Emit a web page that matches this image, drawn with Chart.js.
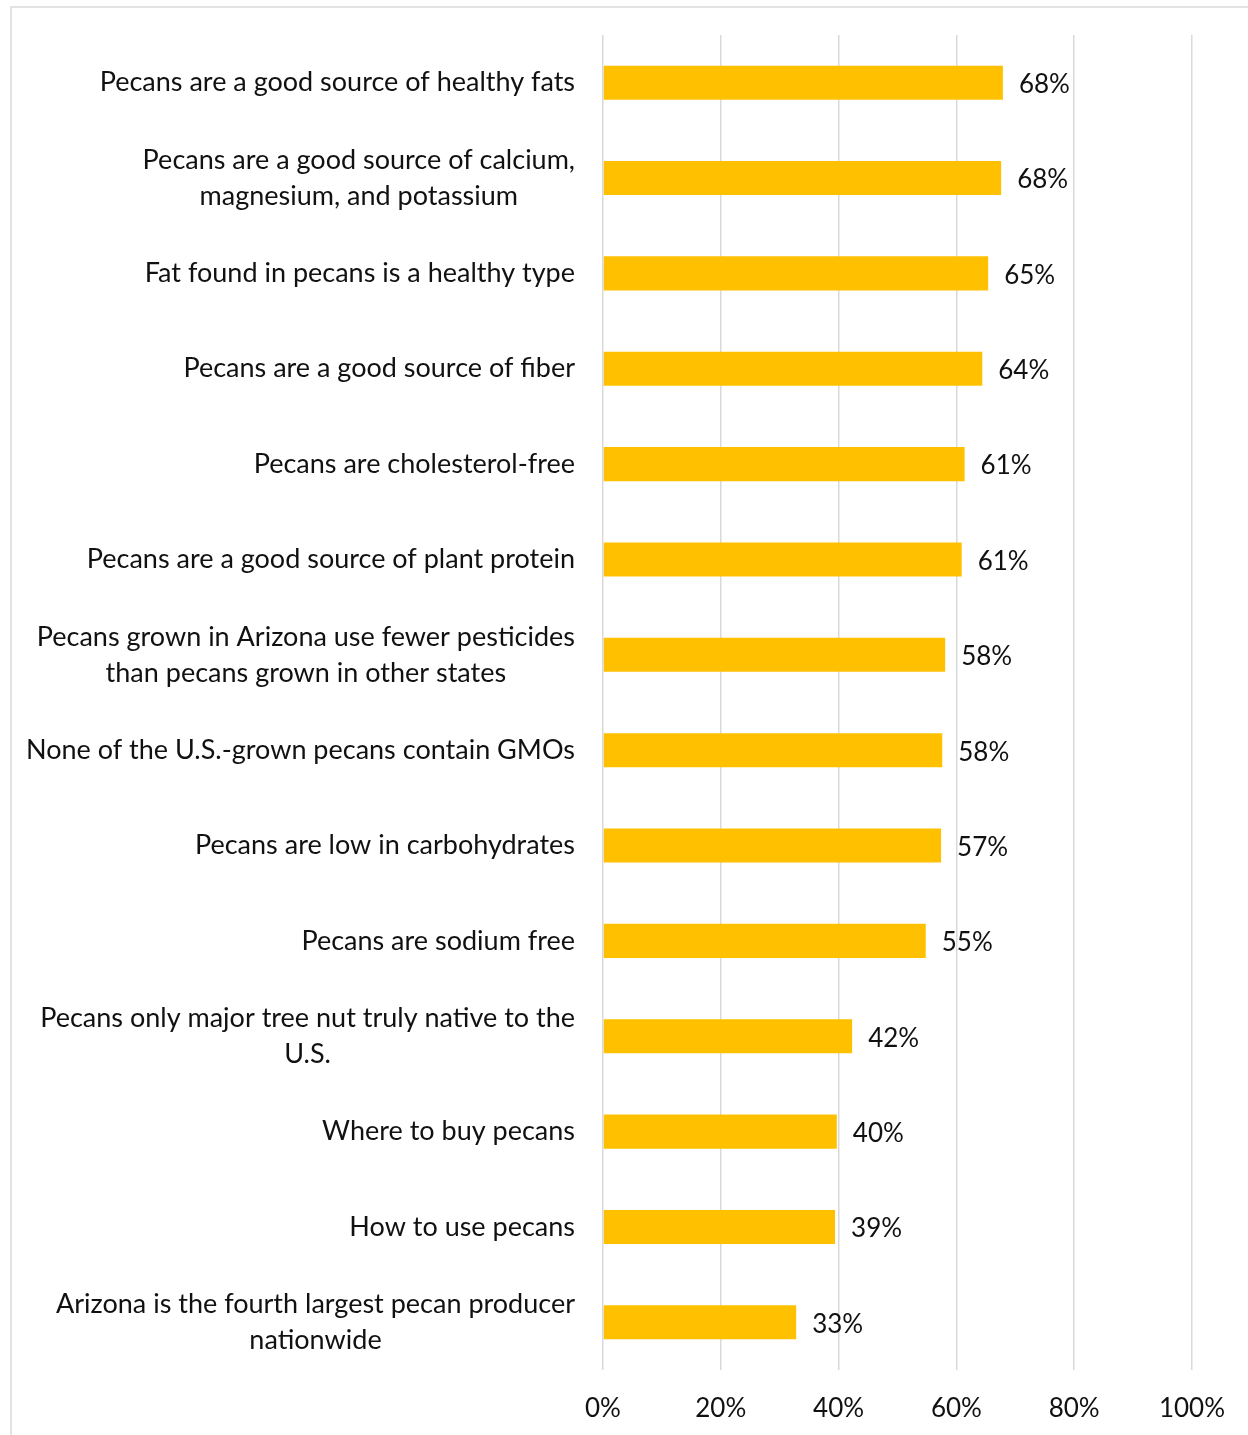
<!DOCTYPE html>
<html lang="en">
<head>
    <meta charset="UTF-8">
    <script src="https://cdn.jsdelivr.net/npm/chart.js"></script>
    <title>Pecan facts</title>
    <style>
        body { margin: 0; background: #fff; }
        #frame { position: absolute; left: 10px; top: 6px; width: 1300px; height: 1500px;
                 border-left: 2px solid #e3e3e3; border-top: 2px solid #e3e3e3; }
        #wrap { position: absolute; left: 0; top: 0; width: 1248px; height: 1435px; }
    </style>
</head>
<body>
    <div id="frame"></div>
    <div id="wrap"><canvas id="pecanChart" width="1248" height="1435"></canvas></div>

    <script>
        // Statements (multi-line ones split as in the original)
        const categories = [
          ['Pecans are a good source of healthy fats'],
          ['Pecans are a good source of calcium,', 'magnesium, and potassium'],
          ['Fat found in pecans is a healthy type'],
          ['Pecans are a good source of fiber'],
          ['Pecans are cholesterol-free'],
          ['Pecans are a good source of plant protein'],
          ['Pecans grown in Arizona use fewer pesticides', 'than pecans grown in other states'],
          ['None of the U.S.-grown pecans contain GMOs'],
          ['Pecans are low in carbohydrates'],
          ['Pecans are sodium free'],
          ['Pecans only major tree nut truly native to the', 'U.S.'],
          ['Where to buy pecans'],
          ['How to use pecans'],
          ['Arizona is the fourth largest pecan producer', 'nationwide']
        ];

        // Share of respondents (%)
        const values = [67.9, 67.6, 65.4, 64.4, 61.4, 60.9, 58.1, 57.6, 57.4, 54.8, 42.3, 39.7, 39.4, 32.8];

        // x axis ticks
        const xTicks = [0, 20, 40, 60, 80, 100];

        const FONT = 'Lato';
        const LABEL_SIZE = 27;
        const NUM_SIZE = 26;

        // Value labels at the end of every bar
        const valueLabels = {
          id: 'valueLabels',
          afterDatasetsDraw(chart) {
            const ctx = chart.ctx;
            const meta = chart.getDatasetMeta(0);
            ctx.save();
            ctx.font = NUM_SIZE + 'px ' + FONT;
            ctx.fillStyle = '#111';
            ctx.textAlign = 'left';
            ctx.textBaseline = 'middle';
            meta.data.forEach((bar, i) => {
              ctx.fillText(Math.round(values[i]) + '%', bar.x + 16, bar.y + 2);
            });
            ctx.restore();
          }
        };

        // Category labels: block right-aligned to the axis, lines centred inside the block
        const categoryLabels = {
          id: 'categoryLabels',
          afterDraw(chart) {
            const ctx = chart.ctx;
            const yScale = chart.scales.y;
            const right = chart.chartArea.left - 28;
            const lineH = 36;
            ctx.save();
            ctx.font = LABEL_SIZE + 'px ' + FONT;
            ctx.fillStyle = '#111';
            ctx.textAlign = 'center';
            ctx.textBaseline = 'middle';
            categories.forEach((lines, i) => {
              const w = Math.max(...lines.map(l => ctx.measureText(l).width));
              const cx = right - w / 2;
              const cy = yScale.getPixelForValue(i);
              const top = cy - (lines.length - 1) * lineH / 2;
              lines.forEach((l, j) => ctx.fillText(l, cx, top + j * lineH));
            });
            ctx.restore();
          }
        };

        const ctx = document.getElementById('pecanChart').getContext('2d');

        new Chart(ctx, {
          type: 'bar',
          data: {
            labels: categories.map(c => c.join(' ')),
            datasets: [{
              data: values,
              backgroundColor: '#FFC000',
              categoryPercentage: 1,
              barPercentage: 0.357
            }]
          },
          options: {
            indexAxis: 'y',
            responsive: false,
            animation: false,
            layout: { padding: { top: 35, right: 56, left: 0, bottom: 0 } },
            scales: {
              x: {
                min: 0,
                max: 100,
                afterBuildTicks: (s) => { s.ticks = xTicks.map(v => ({ value: v })); },
                afterFit: (s) => { s.height = 65; },
                grid: { color: '#d9d9d9', lineWidth: 1.5, drawTicks: false },
                border: { display: false },
                ticks: {
                  padding: 23,
                  color: '#111',
                  font: { family: FONT, size: NUM_SIZE },
                  callback: (v) => v + '%'
                }
              },
              y: {
                afterFit: (s) => { s.width = 603; },
                grid: { display: false },
                border: { display: false },
                ticks: { display: false }
              }
            },
            plugins: {
              legend: { display: false },
              tooltip: { enabled: false }
            }
          },
          plugins: [valueLabels, categoryLabels]
        });
    </script>
</body>
</html>
